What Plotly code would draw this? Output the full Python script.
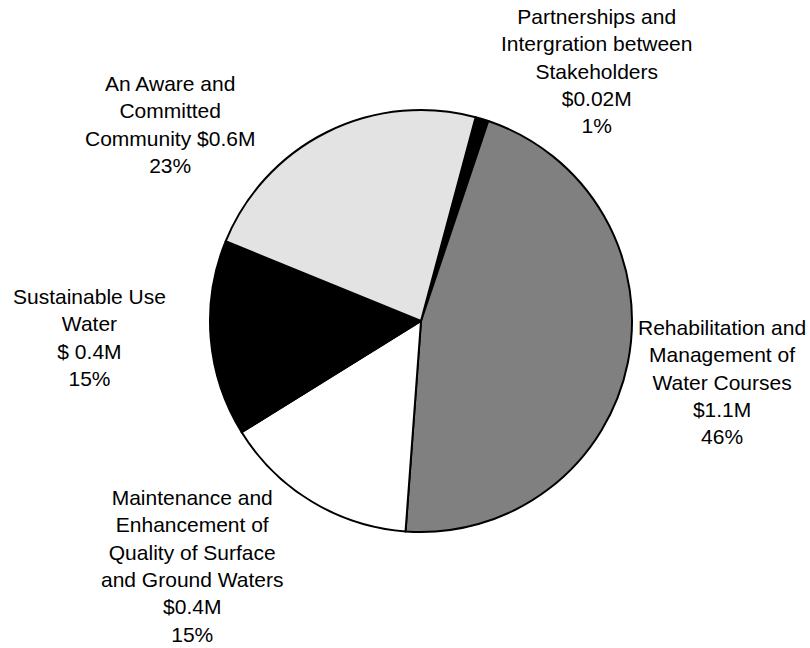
import plotly.graph_objects as go

# Budget allocation by program area
categories = [
    "Partnerships and<br>Intergration between<br>Stakeholders",
    "Rehabilitation and<br>Management of<br>Water Courses",
    "Maintenance and<br>Enhancement of<br>Quality of Surface<br>and Ground Waters",
    "Sustainable Use<br>Water",
    "An Aware and<br>Committed<br>Community",
]
percent_share = [1, 46, 15, 15, 23]
amount_labels = ["$0.02M", "$1.1M", "$0.4M", "$ 0.4M", "$0.6M"]
slice_colors = ["#000000", "#808080", "#ffffff", "#000000", "#e3e3e3"]

# Label centre points (paper coordinates) for each slice, in the same order
label_xy = [
    (0.737, 0.8904),
    (0.8914, 0.4105),
    (0.237, 0.1273),
    (0.1111, 0.4792),
    (0.2099, 0.8071),
]

fig = go.Figure(
    go.Pie(
        labels=categories,
        values=percent_share,
        sort=False,
        direction="clockwise",
        rotation=15,
        marker=dict(colors=slice_colors, line=dict(color="#000000", width=2)),
        textinfo="none",
        hoverinfo="skip",
        showlegend=False,
        domain=dict(x=[(421 - 211) / 810, (421 + 211) / 810],
                    y=[1 - 532 / 648, 1 - 110 / 648]),
    )
)

for name, amt, pct, (x, y) in zip(categories, amount_labels, percent_share, label_xy):
    if name.startswith("An Aware"):
        text = name.replace("Community", "Community " + amt) + f"<br>{pct}%"
    else:
        text = f"{name}<br>{amt}<br>{pct}%"
    fig.add_annotation(
        x=x, y=y, xref="paper", yref="paper",
        text=text, showarrow=False,
        xanchor="center", yanchor="middle", align="center",
        font=dict(family="Liberation Sans, Arial, sans-serif", size=21, color="#000000"),
    )

fig.update_layout(
    width=810, height=648,
    margin=dict(l=0, r=0, t=0, b=0),
    paper_bgcolor="#ffffff",
    plot_bgcolor="#ffffff",
)

fig.write_html("out.html")
